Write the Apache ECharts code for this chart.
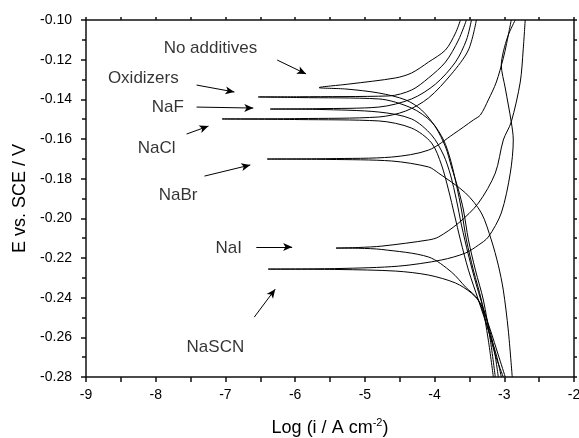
<!DOCTYPE html>
<html>
<head>
<meta charset="utf-8">
<script src="https://cdn.jsdelivr.net/npm/echarts@6/dist/echarts.min.js"></script>
<style>
html,body{margin:0;padding:0;background:#fff;}
#c{width:579px;height:438px;}
</style>
</head>
<body>
<div id="c"></div>
<script>
// ---- Data: log(i / A cm^-2) and E vs. SCE / V, path from cathodic end -> Ecorr -> anodic end
const noAddX = [-3.129,-3.200,-3.300,-3.414,-3.514,-3.586,-3.657,-3.757,-3.843,-3.986,-4.186,-4.414,-4.800,-5.271,-5.657,-5.229,-4.557,-4.329,-4.086,-3.843,-3.700,-3.629];
const noAddE = [-0.2800,-0.2614,-0.2412,-0.2261,-0.2109,-0.1958,-0.1857,-0.1741,-0.1640,-0.1540,-0.1454,-0.1403,-0.1368,-0.1348,-0.1341,-0.1323,-0.1292,-0.1267,-0.1212,-0.1151,-0.1066,-0.1000];

const oxidX = [-3.157,-3.229,-3.329,-3.443,-3.543,-3.614,-3.686,-3.771,-3.871,-4.043,-4.329,-4.800,-5.943,-6.529,-5.943,-4.657,-4.329,-4.086,-3.843,-3.657,-3.543];
const oxidE = [-0.2800,-0.2614,-0.2412,-0.2261,-0.2109,-0.1958,-0.1832,-0.1706,-0.1605,-0.1514,-0.1444,-0.1398,-0.1391,-0.1388,-0.1387,-0.1383,-0.1353,-0.1292,-0.1212,-0.1101,-0.1000];

const nafX = [-3.086,-3.157,-3.271,-3.400,-3.514,-3.614,-3.686,-3.771,-3.871,-4.043,-4.329,-4.800,-5.657,-6.357,-5.657,-4.800,-4.329,-3.986,-3.700,-3.543,-3.471];
const nafE = [-0.2800,-0.2639,-0.2488,-0.2336,-0.2185,-0.2034,-0.1908,-0.1782,-0.1681,-0.1580,-0.1499,-0.1464,-0.1451,-0.1449,-0.1447,-0.1439,-0.1398,-0.1323,-0.1212,-0.1101,-0.1000];

const naclX = [-3.043,-3.114,-3.229,-3.371,-3.514,-3.629,-3.714,-3.800,-3.900,-4.043,-4.329,-4.800,-5.943,-7.047,-5.943,-4.800,-4.414,-4.086,-3.757,-3.514,-3.400];
const naclE = [-0.2800,-0.2689,-0.2563,-0.2412,-0.2261,-0.2109,-0.1983,-0.1857,-0.1731,-0.1620,-0.1545,-0.1509,-0.1502,-0.1499,-0.1497,-0.1489,-0.1459,-0.1393,-0.1272,-0.1151,-0.1000];

const nabrX = [-2.886,-2.943,-3.014,-3.086,-3.186,-3.329,-3.557,-3.943,-4.086,-4.614,-5.514,-6.400,-5.514,-4.614,-4.086,-3.729,-3.443,-3.343,-3.229,-3.114,-3.014,-2.971,-2.900];
const nabrE = [-0.2800,-0.2563,-0.2362,-0.2236,-0.2109,-0.1973,-0.1872,-0.1772,-0.1741,-0.1711,-0.1703,-0.1701,-0.1699,-0.1691,-0.1656,-0.1575,-0.1504,-0.1479,-0.1403,-0.1313,-0.1192,-0.1126,-0.1000];

const naiX = [-3.014,-3.129,-3.229,-3.371,-3.557,-3.757,-4.086,-4.757,-5.086,-5.414,-5.086,-4.757,-4.086,-3.943,-3.657,-3.371,-3.129,-3.014,-2.900,-2.771,-2.729,-2.700];
const naiE = [-0.2800,-0.2689,-0.2563,-0.2412,-0.2346,-0.2271,-0.2195,-0.2157,-0.2151,-0.2150,-0.2147,-0.2140,-0.2109,-0.2094,-0.2024,-0.1923,-0.1772,-0.1605,-0.1514,-0.1313,-0.1151,-0.1000];

const nascnX = [-2.986,-3.086,-3.200,-3.329,-3.471,-3.700,-4.086,-4.557,-5.371,-6.386,-5.371,-4.514,-3.900,-3.557,-3.371,-3.229,-3.043,-2.914,-2.871,-2.900,-2.986,-3.043,-3.014,-2.943,-2.843];
const nascnE = [-0.2800,-0.2689,-0.2563,-0.2437,-0.2377,-0.2326,-0.2286,-0.2266,-0.2258,-0.2256,-0.2253,-0.2241,-0.2210,-0.2175,-0.2135,-0.2094,-0.1973,-0.1772,-0.1605,-0.1514,-0.1343,-0.1227,-0.1161,-0.1076,-0.1000];

// ---- Annotations (text anchor: left edge, vertical centre) and arrows (tail -> head)
const labelTexts = ['No additives','Oxidizers','NaF','NaCl','NaBr','NaI','NaSCN'];
const labelX = [-7.886,-8.686,-8.057,-8.257,-7.957,-7.143,-7.557];
const labelE = [-0.1141,-0.1292,-0.1439,-0.1645,-0.1883,-0.2150,-0.2649];
const arrowTailX = [-6.257,-7.414,-7.414,-7.557,-7.300,-6.557,-6.586];
const arrowTailE = [-0.1202,-0.1328,-0.1439,-0.1575,-0.1787,-0.2145,-0.2498];
const arrowHeadX = [-5.843,-6.871,-6.600,-7.243,-6.643,-6.043,-6.286];
const arrowHeadE = [-0.1272,-0.1363,-0.1444,-0.1535,-0.1731,-0.2145,-0.2357];

// ---- Axis ticks
const xMin = -9, xMax = -2, xStep = 1;
const yMin = -0.28, yMax = -0.10, yStep = 0.02;

const FONT = '"Liberation Sans", Arial, Helvetica, sans-serif';
const curves = [
  ['No additives', noAddX, noAddE],
  ['Oxidizers', oxidX, oxidE],
  ['NaF', nafX, nafE],
  ['NaCl', naclX, naclE],
  ['NaBr', nabrX, nabrE],
  ['NaI', naiX, naiE],
  ['NaSCN', nascnX, nascnE]
];

const axisLineStyle = {color: '#111', width: 1.5};
const series = curves.map(c => ({
  name: c[0],
  type: 'line',
  data: c[1].map((x, i) => [x, c[2][i]]),
  showSymbol: false,
  symbol: 'none',
  smooth: 0.3,
  lineStyle: {color: '#000', width: 1},
  silent: true,
  animation: false
}));

series.push({
  name: 'labels',
  type: 'scatter',
  data: labelTexts.map((t, i) => ({value: [labelX[i], labelE[i]], name: t})),
  symbolSize: 0,
  label: {
    show: true, position: 'right', distance: 0,
    formatter: p => p.name,
    fontSize: 17, color: '#000', fontFamily: FONT
  },
  silent: true,
  animation: false,
  markLine: {
    silent: true,
    animation: false,
    symbol: ['none', 'arrow'],
    symbolSize: [6, 9],
    label: {show: false},
    lineStyle: {color: '#000', width: 1, type: 'solid'},
    data: arrowTailX.map((x, i) => [
      {coord: [x, arrowTailE[i]]},
      {coord: [arrowHeadX[i], arrowHeadE[i]]}
    ])
  }
});

const chart = echarts.init(document.getElementById('c'), null, {renderer: 'canvas'});
chart.setOption({
  backgroundColor: '#fff',
  animation: false,
  grid: {left: 86, right: 5, top: 20, bottom: 61, containLabel: false, outerBoundsMode: 'none'},
  xAxis: [{
    type: 'value', min: xMin, max: xMax, interval: xStep, position: 'bottom',
    axisLine: {show: true, onZero: false, lineStyle: axisLineStyle},
    axisTick: {show: true, inside: false, length: 5, lineStyle: axisLineStyle},
    minorTick: {show: true, splitNumber: 2, length: 5, lineStyle: axisLineStyle},
    splitLine: {show: false},
    axisLabel: {fontSize: 14, color: '#000', margin: 11, fontFamily: FONT},
    name: 'Log (i / A cm{sup|-2})',
    nameLocation: 'middle',
    nameGap: 40,
    nameTextStyle: {
      fontSize: 18, color: '#000', fontFamily: FONT,
      rich: {sup: {fontSize: 11, color: '#000', fontFamily: FONT, verticalAlign: 'bottom', padding: [0, 0, 11, 0]}}
    }
  }, {
    type: 'value', min: xMin, max: xMax, interval: xStep, position: 'top',
    axisLine: {show: true, onZero: false, lineStyle: axisLineStyle},
    axisTick: {show: true, inside: false, length: 3, lineStyle: axisLineStyle},
    minorTick: {show: true, splitNumber: 2, length: 3, lineStyle: axisLineStyle},
    splitLine: {show: false},
    axisLabel: {show: false}
  }],
  yAxis: [{
    type: 'value', min: yMin, max: yMax, interval: yStep, position: 'left',
    axisLine: {show: true, onZero: false, lineStyle: axisLineStyle},
    axisTick: {show: true, inside: false, length: 5, lineStyle: axisLineStyle},
    minorTick: {show: true, splitNumber: 2, length: 4, lineStyle: axisLineStyle},
    splitLine: {show: false},
    axisLabel: {fontSize: 14, color: '#000', margin: 14, fontFamily: FONT, formatter: v => v.toFixed(2)},
    name: 'E vs. SCE / V',
    nameLocation: 'middle',
    nameRotate: 90,
    nameGap: 56,
    nameTextStyle: {fontSize: 18, color: '#000', fontFamily: FONT}
  }, {
    type: 'value', min: yMin, max: yMax, interval: yStep, position: 'right',
    axisLine: {show: true, onZero: false, lineStyle: axisLineStyle},
    axisTick: {show: true, inside: false, length: 3, lineStyle: axisLineStyle},
    minorTick: {show: true, splitNumber: 2, length: 3, lineStyle: axisLineStyle},
    splitLine: {show: false},
    axisLabel: {show: false}
  }],
  series: series
});
</script>
</body>
</html>
